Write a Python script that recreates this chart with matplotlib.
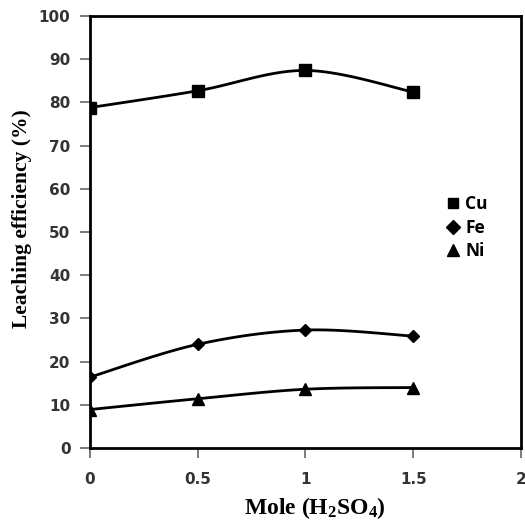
import numpy as np
import matplotlib.pyplot as plt
from matplotlib.lines import Line2D

# data
mole = [0, 0.5, 1, 1.5]
cu = [78.8, 82.7, 87.4, 82.4]
fe = [16.4, 24.0, 27.3, 25.9]
ni = [8.9, 11.4, 13.6, 14.0]

plt.rcParams['mathtext.fontset'] = 'custom'
plt.rcParams['mathtext.rm'] = 'Liberation Serif:bold'
plt.rcParams['mathtext.it'] = 'Liberation Serif:bold'


def smooth(x, y, n=40):
    # catmull-rom style bezier, like a spreadsheet "smoothed line"
    x = np.asarray(x, float)
    y = np.asarray(y, float)
    px = np.concatenate([[x[0]], x, [x[-1]]])
    py = np.concatenate([[y[0]], y, [y[-1]]])
    xs, ys = [], []
    t = np.linspace(0, 1, n)
    for i in range(1, len(px) - 2):
        p0 = np.array([px[i], py[i]])
        p3 = np.array([px[i + 1], py[i + 1]])
        c1 = p0 + (np.array([px[i + 1], py[i + 1]]) - np.array([px[i - 1], py[i - 1]])) / 6
        c2 = p3 - (np.array([px[i + 2], py[i + 2]]) - np.array([px[i], py[i]])) / 6
        b = (np.outer((1 - t) ** 3, p0) + np.outer(3 * (1 - t) ** 2 * t, c1)
             + np.outer(3 * (1 - t) * t ** 2, c2) + np.outer(t ** 3, p3))
        xs.extend(b[:, 0])
        ys.extend(b[:, 1])
    return xs, ys


fig = plt.figure(figsize=(5.25, 5.22), dpi=100)
ax = fig.add_axes([0.1714, 0.1418, 0.8210, 0.8275])

series = [('Cu', cu, 's', 8), ('Fe', fe, 'D', 6.5), ('Ni', ni, '^', 8.5)]
handles = []
for name, vals, mk, ms in series:
    sx, sy = smooth(mole, vals)
    ax.plot(sx, sy, color='black', lw=2)
    ax.plot(mole, vals, linestyle='none', marker=mk, color='black', ms=ms)
    lms = {'s': 7, 'D': 7.5, '^': 9}[mk]
    handles.append(Line2D([], [], linestyle='none', marker=mk, color='black', ms=lms, label=name))

ax.set_xlim(0, 2)
ax.set_ylim(0, 100)
ax.set_xticks([0, 0.5, 1, 1.5, 2])
ax.set_xticklabels(['0', '0.5', '1', '1.5', '2'])
ax.set_yticks(range(0, 101, 10))
for lab in ax.get_xticklabels() + ax.get_yticklabels():
    lab.set_fontfamily('DejaVu Sans')
    lab.set_fontweight('bold')
    lab.set_fontsize(11)
    lab.set_color('#333333')
ax.tick_params(direction='out', length=7, width=1.2, color='#666666')
ax.tick_params(axis='x', pad=10)
ax.tick_params(axis='y', pad=7)
for sp in ax.spines.values():
    sp.set_linewidth(2)

ax.set_xlabel('Mole (H$_2$SO$_4$)', fontfamily='Liberation Serif', fontweight='bold',
              fontsize=17)
ax.xaxis.set_label_coords(0.522, -0.11)
ax.set_ylabel('Leaching efficiency (%)', fontfamily='Liberation Serif', fontweight='bold',
              fontsize=15.5)
ax.yaxis.set_label_coords(-0.135, 0.532)

leg = ax.legend(handles=handles, loc='center left', bbox_to_anchor=(0.79, 0.51),
                frameon=False, handlelength=0.8, handletextpad=0.3, labelspacing=0.3,
                prop={'family': 'Open Sans', 'weight': 'bold', 'size': 12.5})

fig.savefig('out.png', dpi=100)
